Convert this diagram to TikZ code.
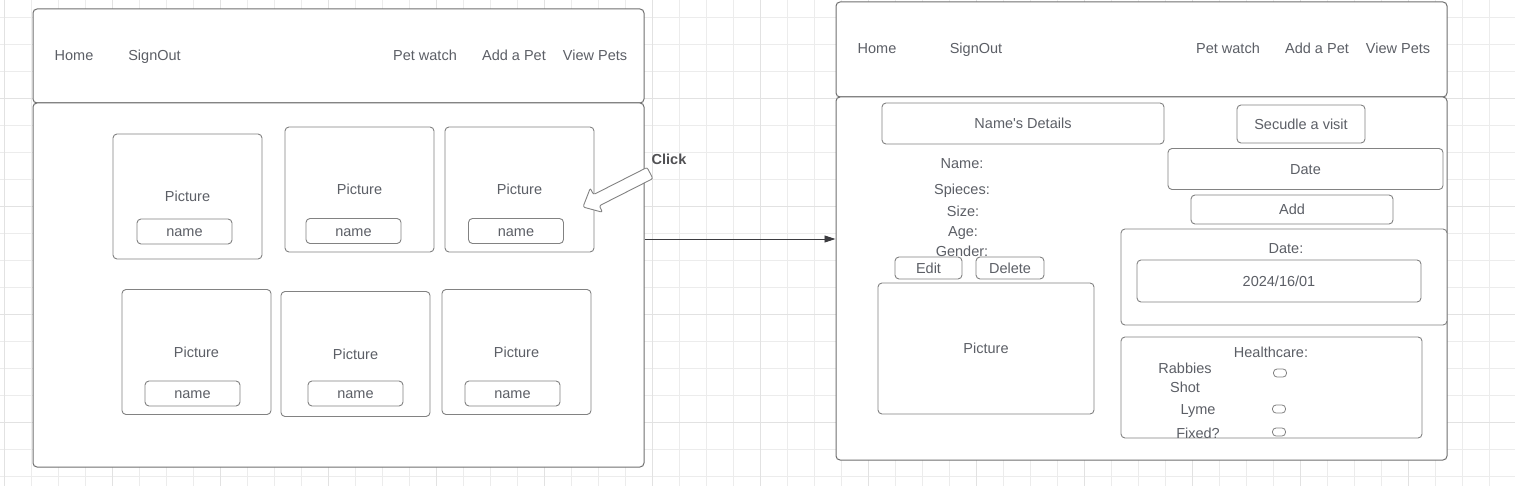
\documentclass[tikz,border=0pt]{standalone}
\usepackage{fontspec}
\setmainfont{Liberation Sans}[Ligatures=TeXOff]
\usetikzlibrary{arrows.meta}
\definecolor{gridgray}{RGB}{236,236,236}
\definecolor{gridmajor}{RGB}{226,226,226}
\definecolor{linegray}{RGB}{130,130,130}
\definecolor{framegray}{RGB}{112,112,112}
\definecolor{textgray}{RGB}{92,95,102}
\definecolor{wiregray}{RGB}{60,60,64}
\tikzset{
	uibox/.style={draw=linegray, fill=white, line width=0.9pt, rounded corners=4pt, inner sep=0pt,
		text=textgray, text height=10.5pt, text depth=0pt, font=\fontsize{14.5}{17}\selectfont},
	uiframe/.style={uibox, draw=framegray, line width=1pt, minimum width=611pt},
	uilines/.style={text=textgray, inner sep=0pt, align=center, font=\fontsize{14.5}{19}\selectfont},
	uitext/.style={uilines, text height=10.5pt, text depth=0pt},
	checkbox/.style={draw=linegray, fill=white, line width=0.8pt, rounded corners=3.5pt,
		minimum width=13pt, minimum height=8pt, inner sep=0pt}
}
\begin{document}
\begin{tikzpicture}[x=1pt, y=-1pt, >={Triangle[length=11pt,width=7pt]}]
	\useasboundingbox (0,0) rectangle (1515,486);
	% grid
	\foreach \x in {4,31,...,1515}
	\draw[gridgray, line width=0.6pt] (\x,0) -- (\x,486);
	\foreach \y in {17,44,...,486}
	\draw[gridgray, line width=0.6pt] (0,\y) -- (1515,\y);
	\foreach \x in {4,112,...,1515}
	\draw[gridmajor, line width=0.7pt] (\x,0) -- (\x,486);
	\foreach \y in {98,206,...,486}
	\draw[gridmajor, line width=0.7pt] (0,\y) -- (1515,\y);
	% list page
	\node[uiframe, minimum height=94pt] (lefthead) at (338.5,56) {};
	\node[uiframe, minimum height=364pt] (leftbody) at (338.5,285) {};
	\node[uitext] (lhome) at (74,55) {Home};
	\node[uitext] (lsignout) at (154.5,55) {SignOut};
	\node[uitext] (lwatch) at (425,55) {Pet watch};
	\node[uitext] (ladd) at (514,55) {Add a Pet};
	\node[uitext] (lview) at (595,55) {View Pets};
	\foreach \cx/\cy/\nx/\ny [count=\i] in {187.5/196.5/184.5/231.5, 359.5/189.5/353.5/231,
		519.5/189.5/516/231, 196.5/352/192.5/393.5, 355.5/354/355.5/393.5, 516.5/352/512.5/393.5}{
		\node[uibox, minimum width=149pt, minimum height=125pt] (card\i) at (\cx,\cy) {Picture};
		\node[uibox, minimum width=95pt, minimum height=25pt] (cardname\i) at (\nx,\ny) {name};
	}
	% click hint
	\draw[linegray, fill=white, line width=0.9pt, rounded corners=2pt]
		(647.1,167.4) -- (593.5,194.6) -- (590.3,188.1) -- (583,207)
		-- (602.5,212.3) -- (599.3,205.8) -- (652.9,178.6) -- cycle;
	\node[text=wiregray!90, inner sep=0pt, font=\fontsize{14.5}{17}\selectfont\bfseries] (click) at (669,159) {Click};
	% details page
	\node[uiframe, minimum height=95pt] (righthead) at (1141.5,49.5) {};
	\node[uiframe, minimum height=363pt] (rightbody) at (1141.5,278.5) {};
	\node[uitext] (rhome) at (877,48) {Home};
	\node[uitext] (rsignout) at (976,48) {SignOut};
	\node[uitext] (rwatch) at (1228,48) {Pet watch};
	\node[uitext] (radd) at (1317,48) {Add a Pet};
	\node[uitext] (rview) at (1398,48) {View Pets};
	\node[uibox, minimum width=282pt, minimum height=41pt] (details) at (1023,123.5) {Name's Details};
	\node[uitext] (lblname) at (962,163) {Name:};
	\node[uitext] (lblspieces) at (962,189) {Spieces:};
	\node[uitext] (lblsize) at (963,211) {Size:};
	\node[uitext] (lblage) at (963,231) {Age:};
	\node[uitext] (lblgender) at (962,251) {Gender:};
	\node[uibox, minimum width=67pt, minimum height=22pt] (edit) at (928.5,268) {Edit};
	\node[uibox, minimum width=68pt, minimum height=22pt] (delete) at (1010,268) {Delete};
	\node[uibox, minimum width=216pt, minimum height=131pt] (petpicture) at (986,348.5) {Picture};
	\node[uibox, minimum width=128pt, minimum height=38pt] (visit) at (1301,124) {Secudle a visit};
	\node[uibox, minimum width=275pt, minimum height=41pt] (visitdate) at (1305.5,169) {Date};
	\node[uibox, minimum width=202pt, minimum height=29pt] (visitadd) at (1292,209.5) {Add};
	\node[uibox, minimum width=326pt, minimum height=96pt] (datepanel) at (1284,277) {};
	\node[uitext] (datetitle) at (1286,248) {Date:};
	\node[uibox, minimum width=284pt, minimum height=42pt] (datevalue) at (1279,281) {2024/16/01};
	\node[uibox, minimum width=301pt, minimum height=101pt] (health) at (1271.5,387.5) {};
	\node[uitext] (healthtitle) at (1271,352) {Healthcare:};
	\node[uilines] (rabbies) at (1185,377.5) {Rabbies\\Shot};
	\node[uitext] (lyme) at (1198,409) {Lyme};
	\node[uitext] (fixed) at (1198,433) {Fixed?};
	\node[checkbox] (chkrabies) at (1280,373) {};
	\node[checkbox] (chklyme) at (1279,409) {};
	\node[checkbox] (chkfixed) at (1279,432) {};
	% page link
	\coordinate (clickline) at ([yshift=46pt]leftbody.east);
	\draw[->, wiregray, line width=0.8pt] (clickline) -- (clickline -| rightbody.west);
\end{tikzpicture}
\end{document}
